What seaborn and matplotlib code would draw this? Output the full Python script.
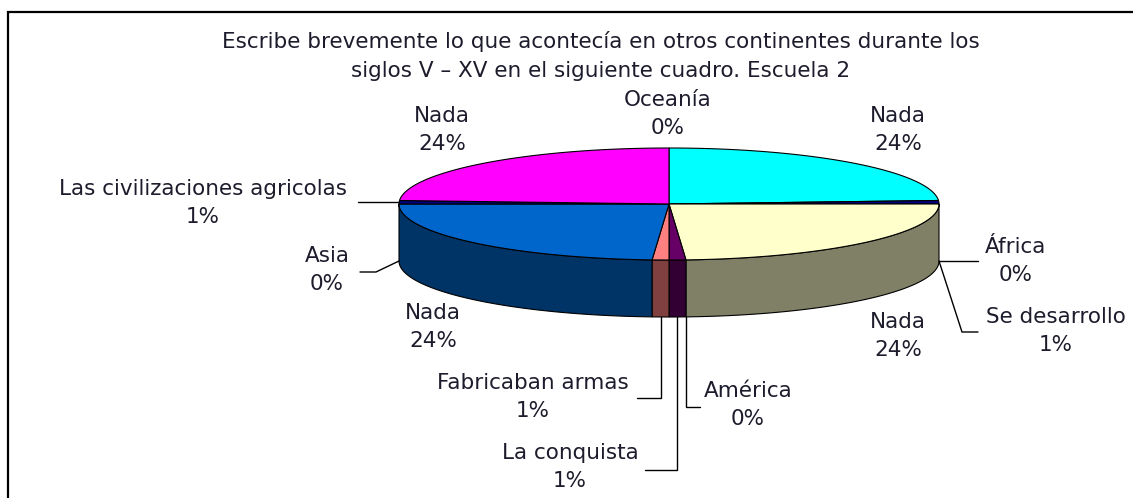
import numpy as np
import matplotlib
matplotlib.use("Agg")
import matplotlib.pyplot as plt
from matplotlib.patches import Polygon
import seaborn as sns

# ---- data -----------------------------------------------------------------
categories = ["Oceanía", "Nada", "África", "Se desarrollo", "Nada", "América",
              "La conquista", "Fabricaban armas", "Nada", "Asia",
              "Las civilizaciones agricolas", "Nada"]
percentages = [0, 24, 0, 1, 24, 0, 1, 1, 24, 0, 1, 24]
title_lines = ["Escribe brevemente lo que acontecía en otros continentes durante los",
               "siglos V – XV en el siguiente cuadro. Escuela 2"]

# ---- style ----------------------------------------------------------------
slice_hex = ["#9999FF", "#00FFFF", "#993366", "#000080", "#FFFFCC", "#9999FF",
             "#660066", "#FF8080", "#0066CC", "#CCCCFF", "#000080", "#FF00FF"]

sns.set_theme(style="white")
plt.rcParams["font.family"] = ["DejaVu Sans"]
palette = sns.color_palette(slice_hex)
side_palette = [tuple(c * 0.5 for c in col) for col in palette]

TEXT_COLOR = "#1c1c2c"
FS = 15.5
LS = 1.55

W, H = 1133, 498
fig = plt.figure(figsize=(W / 100, H / 100), dpi=100)
ax = fig.add_axes([0, 0, 1, 1])
ax.set_xlim(0, W)
ax.set_ylim(H, 0)
ax.axis("off")

# ---- 3-D pie geometry (screen units, y pointing down) ----------------------
cx, cy = 669, 204
rx, ry = 270, 56
depth = 57


def ellipse_pt(theta, drop=0.0):
    """Point on the pie rim; theta in degrees clockwise from 12 o'clock."""
    t = np.radians(theta)
    return cx + rx * np.sin(t), cy - ry * np.cos(t) + drop


def arc(t1, t2, drop=0.0):
    n = max(2, int(abs(t2 - t1) * 2) + 2)
    ts = np.linspace(t1, t2, n)
    return [ellipse_pt(t, drop) for t in ts]


bounds = np.concatenate([[0.0], np.cumsum(percentages)]) * 3.6
starts, ends = bounds[:-1], bounds[1:]
mids = (starts + ends) / 2

# side walls (front half only: 90..270 degrees)
for i, (t1, t2) in enumerate(zip(starts, ends)):
    if percentages[i] == 0:
        continue
    lo, hi = max(t1, 90.0), min(t2, 270.0)
    if hi <= lo:
        continue
    pts = arc(lo, hi) + arc(hi, lo, depth)
    ax.add_patch(Polygon(pts, closed=True, facecolor=side_palette[i],
                         edgecolor="black", lw=0.8, joinstyle="miter"))

# top faces
for i, (t1, t2) in enumerate(zip(starts, ends)):
    if percentages[i] == 0:
        continue
    pts = [(cx, cy)] + arc(t1, t2)
    ax.add_patch(Polygon(pts, closed=True, facecolor=palette[i],
                         edgecolor="black", lw=0.8, joinstyle="miter"))

# ---- labels ----------------------------------------------------------------
label_pos = [(668, 114), (442, 130), (1016, 261), (1056, 331), (898, 336),
             (748, 405), (570, 467), (533, 397), (433, 327), (327, 270),
             (203, 203), (898, 130)]

for name, pct, (lx, ly) in zip(categories, percentages, label_pos):
    ax.text(lx, ly, f"{name}\n{pct}%", ha="center", va="center",
            multialignment="center", fontsize=FS, color=TEXT_COLOR,
            linespacing=LS)


def clamp_front(theta):
    return min(max(theta, 90.0), 270.0)


def leader(points):
    xs, ys = zip(*points)
    ax.plot(xs, ys, color="black", lw=1.0, solid_joinstyle="miter")


idx = {k: i for i, k in enumerate(categories) if k != "Nada"}

# Las civilizaciones agricolas: to the top rim
a = ellipse_pt(mids[idx["Las civilizaciones agricolas"]])
leader([(358, a[1]), a])
# Asia: to the lower rim on the left
a = ellipse_pt(clamp_front(mids[idx["Asia"]]), depth)
leader([(360, 272), (376, 272), a])
# África / Se desarrollo: lower rim on the right
a = ellipse_pt(clamp_front(mids[idx["África"]]), depth)
leader([a, (978, a[1])])
a = ellipse_pt(clamp_front(mids[idx["Se desarrollo"]]), depth)
leader([a, (962, 332), (978, 332)])
# slices at the front
a = ellipse_pt(mids[idx["América"]], depth)
leader([a, (a[0], 407), (700, 407)])
a = ellipse_pt(mids[idx["La conquista"]], depth)
leader([a, (a[0], 470), (645, 470)])
a = ellipse_pt(mids[idx["Fabricaban armas"]], depth)
leader([a, (a[0], 398), (637, 398)])

# ---- title -----------------------------------------------------------------
ax.text(601, 56, "\n".join(title_lines), ha="center", va="center",
        multialignment="center", fontsize=FS, color=TEXT_COLOR, linespacing=LS)

# chart frame
ax.plot([8, 8, W], [H, 12, 12], color="black", lw=1.6,
        solid_joinstyle="miter", clip_on=False)

fig.savefig("out.png", dpi=100, facecolor="white")
